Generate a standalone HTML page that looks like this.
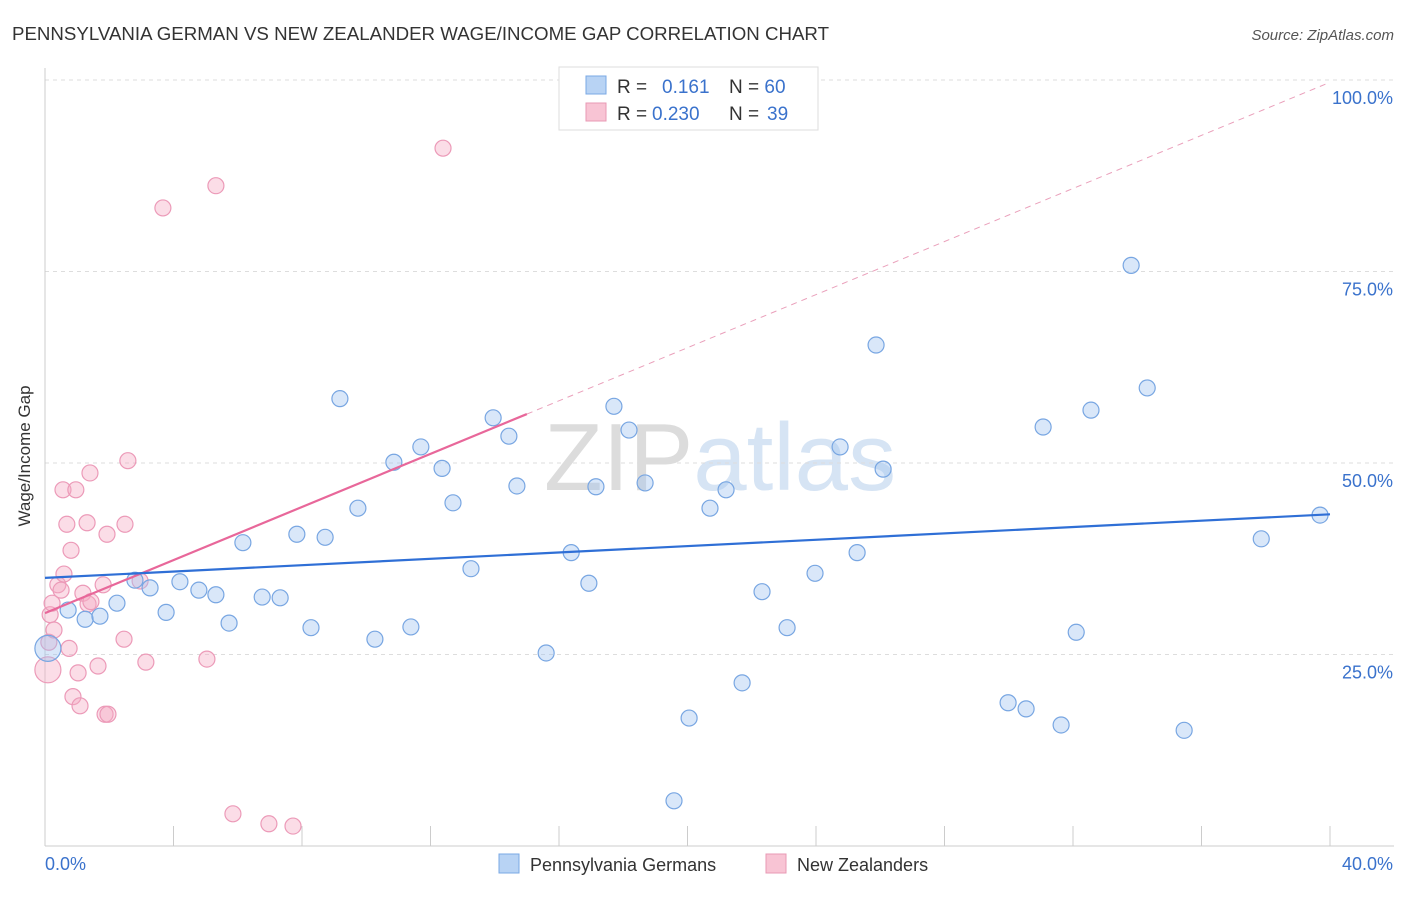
<!DOCTYPE html>
<html><head><meta charset="utf-8"><style>
body{margin:0;background:#fff;font-family:"Liberation Sans",sans-serif;}
svg text{font-family:"Liberation Sans",sans-serif;}
</style></head><body>
<svg id="chart" width="1406" height="892">
<text x="12" y="40" font-size="18" fill="#333" textLength="817" lengthAdjust="spacingAndGlyphs">PENNSYLVANIA GERMAN VS NEW ZEALANDER WAGE/INCOME GAP CORRELATION CHART</text>
<text x="1394" y="40" font-size="15" fill="#555" text-anchor="end" font-style="italic">Source: ZipAtlas.com</text>
<text x="720" y="490" font-size="96" fill="#e4e4e4" text-anchor="middle" font-family="Liberation Serif"><tspan fill="#dcdcdc">ZIP</tspan><tspan fill="#d6e4f4" font-family="Liberation Sans">atlas</tspan></text>
<g id="grid"></g>
<g id="axes"></g>
<g id="marks"></g>
<text x="30" y="456" font-size="17" fill="#333" text-anchor="middle" transform="rotate(-90 30 456)">Wage/Income Gap</text>
<g>
<rect x="559" y="67" width="259" height="63" fill="#fff" stroke="#ddd"/>
<rect x="586" y="76" width="20" height="18" fill="#b8d3f4" stroke="#7aa8e4"/>
<text x="617" y="93" font-size="19" fill="#333">R = <tspan fill="#3a72cc" x="662">0.161</tspan><tspan x="729">N = </tspan><tspan fill="#3a72cc">60</tspan></text>
<rect x="586" y="103" width="20" height="18" fill="#f8c4d4" stroke="#e89ab4"/>
<text x="617" y="120" font-size="19" fill="#333">R = <tspan fill="#3a72cc" x="652">0.230</tspan><tspan x="729">N = </tspan><tspan fill="#3a72cc" x="767">39</tspan></text>
</g>
<g>
<rect x="499" y="854" width="20" height="19" fill="#b8d3f4" stroke="#7aa8e4"/>
<text x="530" y="871" font-size="18" fill="#333">Pennsylvania Germans</text>
<rect x="766" y="854" width="20" height="19" fill="#f8c4d4" stroke="#e89ab4"/>
<text x="797" y="871" font-size="18" fill="#333">New Zealanders</text>
</g>
</svg>
<script>
const blueX=[0.09,0.72,1.25,1.71,2.24,2.80,3.27,3.77,4.20,4.79,5.32,5.73,6.16,6.76,7.32,7.84,8.28,8.72,9.18,9.74,10.27,10.86,11.39,11.70,12.36,12.70,13.26,13.95,14.44,14.69,15.60,16.38,16.93,17.15,17.71,18.18,18.68,19.58,20.05,20.70,21.20,21.70,22.32,23.10,23.97,24.75,25.28,25.87,26.09,29.98,30.54,31.07,31.63,32.10,32.56,33.81,34.31,35.46,37.86,39.69];
const blueY=[25.8,30.8,29.6,30.0,31.7,34.7,33.7,30.5,34.5,33.4,32.8,29.1,39.6,32.5,32.4,40.7,28.5,40.3,58.4,44.1,27.0,50.1,28.6,52.1,49.3,44.8,36.2,55.9,53.5,47.0,25.2,38.3,34.3,46.9,57.4,54.3,47.4,5.9,16.7,44.1,46.5,21.3,33.2,28.5,35.6,52.1,38.3,65.4,49.2,18.7,17.9,54.7,15.8,27.9,56.9,75.8,59.8,15.1,40.1,43.2];
const pinkX=[0.09,0.12,0.16,0.22,0.28,0.40,0.50,0.59,0.56,0.68,0.75,0.81,0.87,0.96,1.03,1.09,1.18,1.31,1.34,1.40,1.43,1.65,1.81,1.87,1.96,1.93,2.46,2.49,2.58,2.96,3.14,3.67,5.04,5.32,5.85,6.97,7.72,12.39];
const pinkY=[23.0,26.6,30.2,31.7,28.2,34.1,33.4,35.5,46.5,42.0,25.8,38.6,19.5,46.5,22.6,18.3,33.0,42.2,31.6,48.7,31.9,23.5,34.1,17.2,17.2,40.7,27.0,42.0,50.3,34.6,24.0,83.3,24.4,86.2,4.2,2.9,2.6,91.1];
const blueTrend=[35.0,43.3]; // y at x=0 and x=40
const pinkTrend=[30.4,99.7];  // y at x=0 and x=40
const yTicks=[25,50,75,100];
const yTickLabels=["25.0%","50.0%","75.0%","100.0%"];
const xTicks=[0,4,8,12,16,20,24,28,32,36,40];
const NS="http://www.w3.org/2000/svg";
const sx=v=>45+v/40*1285;
const sy=v=>846-v/100*766;
function mk(tag,attrs,parent){const e=document.createElementNS(NS,tag);for(const k in attrs)e.setAttribute(k,attrs[k]);parent.appendChild(e);return e;}
const grid=document.getElementById('grid'),axes=document.getElementById('axes'),marks=document.getElementById('marks');
yTicks.forEach((t,i)=>{
  const l=mk('line',{x1:45,x2:1394,y1:sy(t),y2:sy(t),stroke:'#ddd','stroke-dasharray':'4,4'},grid);
  
  
  const tx=mk('text',{x:1393,y:sy(t)+24,'font-size':18,fill:'#3a72cc','text-anchor':'end'},axes);
  tx.textContent=yTickLabels[i];
  
  
});
const ya=mk('line',{x1:45,x2:45,y1:68,y2:846,stroke:'#ccc'},axes);


const xa=mk('line',{x1:45,x2:1394,y1:846,y2:846,stroke:'#ccc'},axes);


xTicks.forEach(t=>{
  const l=mk('line',{x1:sx(t),x2:sx(t),y1:826,y2:846,stroke:'#ccc'},axes);
  
  
});
const xl0=mk('text',{x:45,y:870,'font-size':18,fill:'#3a72cc'},axes);xl0.textContent=xTicks[0].toFixed(1)+'%';


const xl1=mk('text',{x:1393,y:870,'font-size':18,fill:'#3a72cc','text-anchor':'end'},axes);xl1.textContent=xTicks[xTicks.length-1].toFixed(1)+'%';


pinkX.forEach((x,i)=>{
  const c=mk('circle',{cx:sx(x),cy:sy(pinkY[i]),r:i===0?13:8,fill:'rgba(245,170,195,0.4)',stroke:'#ec9ab8','stroke-width':1.2},marks);
  
  
});
blueX.forEach((x,i)=>{
  const c=mk('circle',{cx:sx(x),cy:sy(blueY[i]),r:i===0?13:8,fill:'rgba(160,195,240,0.4)',stroke:'#78a6e2','stroke-width':1.2},marks);
  
  
});
const pEnd=15;
const pAt=x=>pinkTrend[0]+(pinkTrend[1]-pinkTrend[0])*x/40;
const pd=mk('line',{x1:sx(pEnd),y1:sy(pAt(pEnd)),x2:sx(40),y2:sy(pAt(40)),stroke:'#eaa0bb','stroke-width':1,'stroke-dasharray':'6,5'},marks);


const pl=mk('line',{x1:sx(0),y1:sy(pAt(0)),x2:sx(pEnd),y2:sy(pAt(pEnd)),stroke:'#e8679a','stroke-width':2.2},marks);


const bl=mk('line',{x1:sx(0),y1:sy(blueTrend[0]),x2:sx(40),y2:sy(blueTrend[1]),stroke:'#2f6fd6','stroke-width':2.2},marks);


</script>
</body></html>
